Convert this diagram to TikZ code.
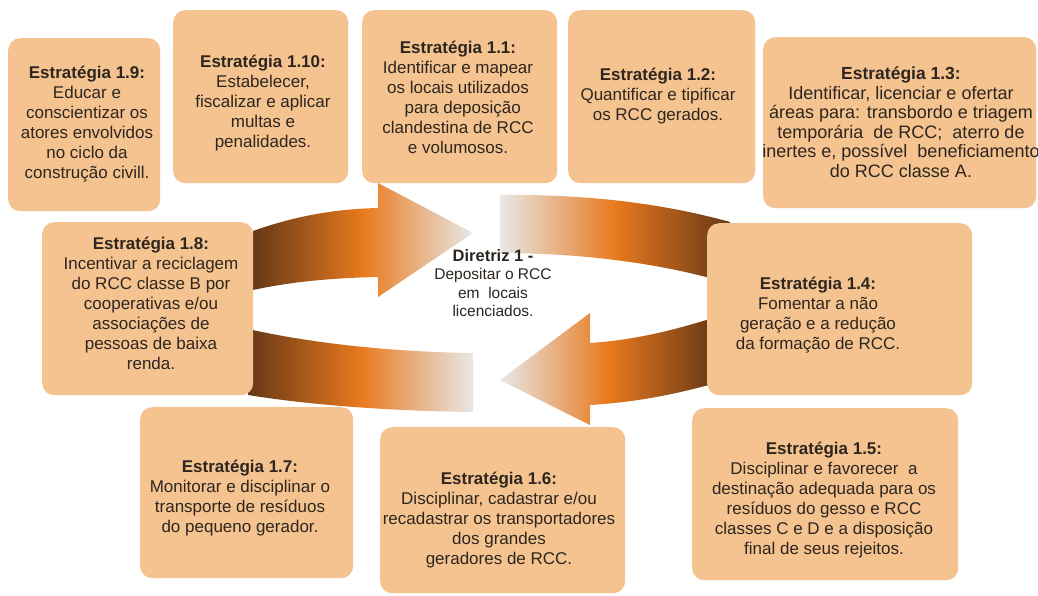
\documentclass[tikz,border=0pt]{standalone}
\usepackage{fontspec}
\setmainfont{Liberation Sans}
\definecolor{boxfill}{RGB}{245,195,143}
\definecolor{darkbrown}{RGB}{102,56,22}
\definecolor{orng}{RGB}{232,122,30}
\definecolor{lightg}{RGB}{232,232,232}
\definecolor{txt}{RGB}{45,38,32}
\tikzset{
  sbox/.style={fill=boxfill, draw=none, rounded corners=12pt, anchor=north west, inner sep=0pt},
  stext/.style={align=center, text=txt, inner sep=0pt, font=\fontsize{17}{20}\selectfont},
  rshade/.style={left color=darkbrown, right color=lightg, middle color=orng},
  lshade/.style={left color=lightg, right color=darkbrown, middle color=orng},
}
\begin{document}
\begin{tikzpicture}[x=1pt,y=-1pt]
\useasboundingbox (0,0) rectangle (1038,595);
\fill[white] (0,0) rectangle (1038,595);

% top-left arrow (pointing right)
\coordinate (a1) at (253,231);
\coordinate (a2) at (378,208);
\shade[rshade] (a1) .. controls (295,216) and (335,209) .. (a2) -- (378,183) -- (473,233)
  -- (378,297) -- (378,277) .. controls (330,278) and (290,282) .. (253,290) -- cycle;
% top-right band
\shade[lshade] (500,195) .. controls (590,194) and (665,204) .. (730,222) -- (724,282)
  .. controls (660,263) and (580,253) .. (500,253) -- cycle;
% bottom-right arrow (pointing left)
\shade[lshade] (716,317) .. controls (675,330) and (635,340) .. (590,343) -- (590,313) -- (500,380)
  -- (590,425) -- (590,405) .. controls (640,402) and (680,393) .. (716,383) -- cycle;
% bottom-left band
\shade[rshade] (248,329) .. controls (320,345) and (400,352) .. (473,353) -- (473,412)
  .. controls (390,411) and (310,405) .. (248,395) -- cycle;

% boxes
\node[sbox, minimum width=152, minimum height=173] (b19) at (8,38) {};
\node[sbox, minimum width=175, minimum height=173] (b110) at (173,10) {};
\node[sbox, minimum width=195, minimum height=173] (b11) at (362,10) {};
\node[sbox, minimum width=187, minimum height=173] (b12) at (568,10) {};
\node[sbox, minimum width=273, minimum height=171] (b13) at (763,37) {};
\node[sbox, minimum width=211, minimum height=173] (b18) at (42,222) {};
\node[sbox, minimum width=265, minimum height=172] (b14) at (707,223) {};
\node[sbox, minimum width=213, minimum height=171] (b17) at (140,407) {};
\node[sbox, minimum width=245, minimum height=166] (b16) at (380,427) {};
\node[sbox, minimum width=266, minimum height=172] (b15) at (692,408) {};

% texts
\node[stext] (t19) at (87,124) {\textbf{Estratégia 1.9:}\\Educar e\\conscientizar os\\atores envolvidos\\no ciclo da\\construção civill.};
\node[stext] (t110) at (263,103) {\textbf{Estratégia 1.10:}\\Estabelecer,\\fiscalizar e aplicar\\multas e\\penalidades.};
\node[stext] (t11) at (458,97) {\textbf{Estratégia 1.1:}\\Identificar e mapear\\os locais utilizados\\\ \ para deposição\\clandestina de RCC\\e volumosos.};
\node[stext] (t12) at (658,96) {\textbf{Estratégia 1.2:}\\Quantificar e tipificar\\os RCC gerados.};
\node[stext, font=\fontsize{18}{19.5}\selectfont] (t13) at (901,122) {{\fontsize{17.5}{19.5}\selectfont\textbf{Estratégia 1.3:}}\\Identificar, licenciar e ofertar\\áreas para: transbordo e triagem\\temporária\ \ de RCC;\ \ aterro de\\inertes e, possível\ \ beneficiamento\\do RCC classe A.};
\node[stext] (t18) at (151,303) {\textbf{Estratégia 1.8:}\\Incentivar a reciclagem\\do RCC classe B por\\cooperativas e/ou\\associações de\\pessoas de baixa\\renda.};
\node[stext] (t14) at (818,315) {\textbf{Estratégia 1.4:}\\Fomentar a não\\geração e a redução\\da formação de RCC.};
\node[stext] (t17) at (240,498) {\textbf{Estratégia 1.7:}\\Monitorar e disciplinar o\\transporte de resíduos\\do pequeno gerador.};
\node[stext] (t16) at (499,520) {\textbf{Estratégia 1.6:}\\Disciplinar, cadastrar e/ou\\recadastrar os transportadores\\dos grandes\\geradores de RCC.};
\node[stext] (t15) at (824,500) {\textbf{Estratégia 1.5:}\\Disciplinar e favorecer\ \ a\\destinação adequada para os\\resíduos do gesso e RCC\\classes C e D e a disposição\\final de seus rejeitos.};
\node[stext, font=\fontsize{15.5}{18.5}\selectfont] (dir) at (493,283) {{\fontsize{16.5}{18.5}\selectfont\textbf{Diretriz 1 -}}\\Depositar o RCC\\em\ \ locais\\licenciados.};
\end{tikzpicture}
\end{document}
